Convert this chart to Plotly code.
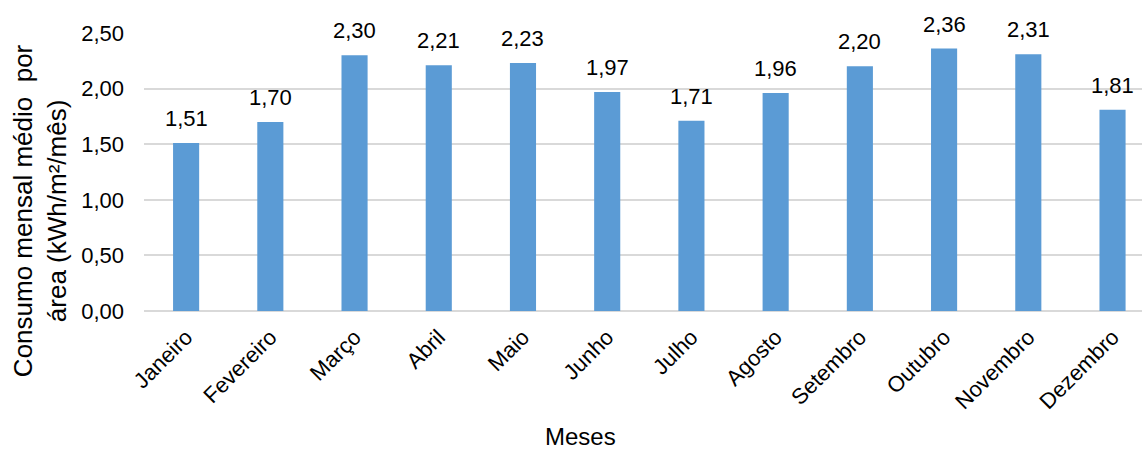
import plotly.graph_objects as go

meses = ["Janeiro", "Fevereiro", "Março", "Abril", "Maio", "Junho", "Julho",
         "Agosto", "Setembro", "Outubro", "Novembro", "Dezembro"]
consumo = [1.51, 1.70, 2.30, 2.21, 2.23, 1.97, 1.71, 1.96, 2.20, 2.36, 2.31, 1.81]
y_ticks = [0, 0.5, 1.0, 1.5, 2.0, 2.5]

FONT = "Liberation Sans, Arial, sans-serif"

fig = go.Figure()
fig.add_trace(go.Bar(
    x=meses, y=consumo,
    marker=dict(color="#5B9BD5", line=dict(width=0)),
    width=0.31,
    hoverinfo="x+y",
))

for m, v in zip(meses, consumo):
    fig.add_annotation(
        x=m, y=v, xref="x", yref="y",
        text=f"{v:.2f}".replace(".", ","),
        showarrow=False, yanchor="bottom", xanchor="center",
        yshift=10,
        font=dict(family=FONT, size=22, color="#000000"),
    )

fig.add_annotation(
    xref="paper", yref="paper", x=-0.104, y=0.36,
    text="Consumo mensal médio  por<br>área (kWh/m²/mês)",
    textangle=-90, showarrow=False, xanchor="center", yanchor="middle",
    font=dict(family=FONT, size=26, color="#000000"),
)
fig.add_annotation(
    xref="paper", yref="paper", x=(580 - 144) / 998, y=-0.452,
    text="Meses",
    showarrow=False, xanchor="center", yanchor="middle",
    font=dict(family=FONT, size=24, color="#000000"),
)

fig.update_layout(
    width=1142, height=450,
    margin=dict(l=144, r=0, t=33, b=139),
    plot_bgcolor="white", paper_bgcolor="white",
    separators=",.",
    showlegend=False,
    font=dict(family=FONT, size=22, color="#000000"),
    xaxis=dict(
        range=[-0.5, 11.35],
        tickangle=-45,
        tickfont=dict(family=FONT, size=22, color="#000000"),
        showgrid=False, showline=False, zeroline=False,
        ticks="",
        ticklabelstandoff=8,
        fixedrange=True,
    ),
    yaxis=dict(
        range=[0, 2.5],
        tickvals=y_ticks,
        tickformat=".2f",
        tickfont=dict(family=FONT, size=22, color="#000000"),
        showgrid=True, gridcolor="#D9D9D9", gridwidth=1.5,
        zeroline=True, zerolinecolor="#D9D9D9", zerolinewidth=1.5,
        showline=False, ticks="",
        ticklabelstandoff=19,
        fixedrange=True,
    ),
)

fig.write_html("out.html")
